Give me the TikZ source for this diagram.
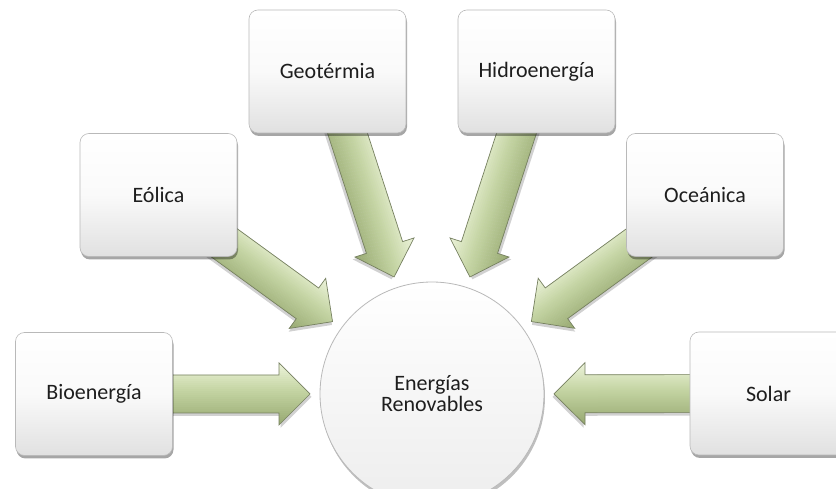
\documentclass[tikz,border=0pt]{standalone}
\usepackage{fontspec}
\setmainfont{Carlito}
\usetikzlibrary{shadows,calc}
\definecolor{txt}{RGB}{30,30,30}
\definecolor{arrlight}{RGB}{236,243,218}
\definecolor{arrmid}{RGB}{198,214,165}
\definecolor{arrdark}{RGB}{152,170,114}
\definecolor{arredge}{RGB}{118,128,96}
\tikzset{
  box/.style={rectangle, rounded corners=9pt, minimum width=157pt, minimum height=123pt,
    draw=gray!55, line width=0.6pt, top color=white, bottom color=gray!24, middle color=gray!4,
    drop shadow={shadow xshift=1pt, shadow yshift=-3pt, opacity=0.35, fill=black},
    font=\fontsize{22}{22}\selectfont, text=txt},
  hub/.style={circle, minimum size=224pt, draw=gray!55, line width=0.8pt,
    top color=white, bottom color=gray!14,
    drop shadow={shadow xshift=1pt, shadow yshift=-3pt, opacity=0.25, fill=black},
    font=\fontsize{22}{21}\selectfont, text=txt, align=center},
  blkedge/.style={draw=arredge, line width=0.7pt, line join=miter}
}
\newcommand\arrowoutline{(0,-19) -- ({\arrlen-31},-19) -- ({\arrlen-31},-31) -- (\arrlen,0)
      -- ({\arrlen-31},31) -- ({\arrlen-31},19) -- (0,19) -- cycle}
\newcommand\blkarrow[2]{%
  \path let \p1=(#1), \p2=(#2), \n1={atan2(\y2-\y1,\x2-\x1)}, \n2={veclen(\x2-\x1,\y2-\y1)} in
    \pgfextra{\xdef\arrang{\n1}\xdef\arrlen{\n2}};
  \pgfmathsetmacro\arrflip{cos(\arrang)<0 ? -1 : 1}%
  \begin{scope}[shift={(#1)}, rotate=\arrang, yscale=\arrflip]
    \fill[black, opacity=0.18, shift={(1.5,-3)}] \arrowoutline;
    \begin{scope}
      \clip \arrowoutline;
      \foreach \i in {0,...,30} {%
        \pgfmathsetmacro\ya{31-\i*2}%
        \pgfmathsetmacro\yb{\ya-2.2}%
        \pgfmathsetmacro\tt{\i/30}%
        \pgfmathsetmacro\pc{\tt<0.42 ? 100*(\tt/0.42) : 100*((\tt-0.42)/0.58)}%
        \ifdim\tt pt<0.42pt
          \fill[arrmid!\pc!arrlight] (0,\ya) rectangle (\arrlen,\yb);
        \else
          \fill[arrdark!\pc!arrmid] (0,\ya) rectangle (\arrlen,\yb);
        \fi
      }
    \end{scope}
    \draw[blkedge] \arrowoutline;
  \end{scope}}
\begin{document}
\begin{tikzpicture}[x=1pt,y=1pt]
  \useasboundingbox (0,0) rectangle (836,489);
  \clip (0,0) rectangle (836,489);
  \fill[white] (0,0) rectangle (836,489);
  % hub
  \node[hub] (hub) at (432,95) {Energías\\Renovables};
  % box centres
  \coordinate (cbio) at (94,95);
  \coordinate (ceol) at (158.5,294);
  \coordinate (cgeo) at (327.5,417.5);
  \coordinate (chid) at (536.5,417.5);
  \coordinate (coce) at (705,294);
  \coordinate (csol) at (768.5,95.5);
  % arrow tips
  \coordinate (tbio) at ($(hub.center)!122pt!(cbio)$);
  \coordinate (teol) at ($(hub.center)!123pt!(ceol)$);
  \coordinate (tgeo) at ($(hub.center)!123pt!(cgeo)$);
  \coordinate (thid) at ($(hub.center)!123pt!(chid)$);
  \coordinate (toce) at ($(hub.center)!123pt!(coce)$);
  \coordinate (tsol) at ($(hub.center)!122pt!(csol)$);
  \blkarrow{cbio}{tbio}
  \blkarrow{ceol}{teol}
  \blkarrow{cgeo}{tgeo}
  \blkarrow{chid}{thid}
  \blkarrow{coce}{toce}
  \blkarrow{csol}{tsol}
  % boxes
  \node[box] (bio) at (cbio) {Bioenergía};
  \node[box] (eol) at (ceol) {Eólica};
  \node[box] (geo) at (cgeo) {Geotérmia};
  \node[box] (hid) at (chid) {Hidroenergía};
  \node[box] (oce) at (coce) {Oceánica};
  \node[box] (sol) at (csol) {Solar};
\end{tikzpicture}
\end{document}
